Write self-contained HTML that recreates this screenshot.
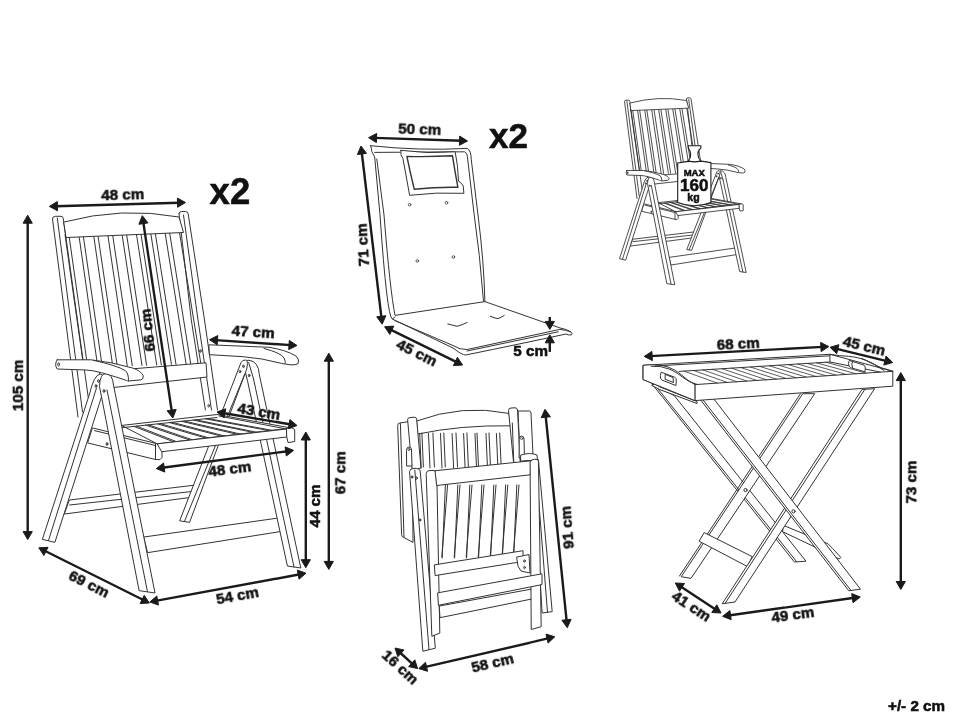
<!DOCTYPE html><html><head><meta charset="utf-8"><style>html,body{margin:0;padding:0;background:#fff;}svg{display:block;-webkit-font-smoothing:antialiased;} text{will-change:transform;font-family:"Liberation Sans",sans-serif;}</style></head><body>
<svg width="970" height="728" viewBox="0 0 970 728">
<rect width="970" height="728" fill="#fff"/>
<g fill="#fff" stroke="#333" stroke-width="1.0" stroke-linejoin="round" stroke-linecap="round">
<path d="M78,417 L52.5,219 Q52.5,216.3 55.5,216.3 L61,216.3 Q63,216.3 63.3,218.5 L90,410"/>
<line x1="57.3" y1="218" x2="82.5" y2="412"/>
<path d="M179,213.5 Q179,211.5 181.5,211.5 L185.5,211.5 Q188,211.5 188.2,214 L204.5,320 L217.5,410"/>
<path fill="none" d="M179,213.5 L191.3,320 L205.4,410"/>
<path fill="none" d="M183.5,215 L198,320 L211.5,410"/>
<ellipse cx="200.4" cy="351" rx="0.8" ry="1.3"/>
<ellipse cx="208.7" cy="405.7" rx="0.8" ry="1.3"/>
<line x1="65.0" y1="234.8" x2="83.8" y2="367.6"/>
<line x1="68.9" y1="234.8" x2="87.7" y2="367.4"/>
<line x1="78.8" y1="234.6" x2="97.8" y2="367.1"/>
<line x1="83.1" y1="234.6" x2="102.3" y2="366.9"/>
<line x1="93.5" y1="234.4" x2="112.8" y2="366.5"/>
<line x1="97.8" y1="234.4" x2="117.3" y2="366.4"/>
<line x1="107.7" y1="234.2" x2="127.3" y2="366.0"/>
<line x1="112.5" y1="234.1" x2="132.3" y2="365.8"/>
<line x1="122.0" y1="234.0" x2="142.0" y2="365.5"/>
<line x1="126.5" y1="233.9" x2="146.6" y2="365.3"/>
<line x1="136.4" y1="233.8" x2="156.7" y2="365.0"/>
<line x1="140.9" y1="233.7" x2="161.3" y2="364.8"/>
<line x1="150.8" y1="233.6" x2="171.4" y2="364.4"/>
<line x1="155.3" y1="233.5" x2="176.0" y2="364.3"/>
<line x1="165.2" y1="233.4" x2="186.1" y2="363.9"/>
<line x1="169.7" y1="233.3" x2="190.7" y2="363.8"/>
<line x1="179.6" y1="233.2" x2="200.8" y2="363.4"/>
<path d="M64,222 Q122,206.5 179,217 L183.5,232.5 L66.4,237.5 Z"/>
<polygon points="100,371.5 206,362.8 207,377 100,389"/>
<polygon points="69.7,500 196,485 197.5,496.5 64.7,514"/>
<line x1="69.7" y1="505" x2="196.5" y2="491"/>
<polygon points="144,537 282,517.5 284,531 148,552.6"/>
<path d="M244.5,368 Q245,360.5 248,360.1 Q254,360.5 256.3,364.4 Q259,368 259.2,374 L300.8,568 L287.4,566 L247.7,381.7 Z"/>
<line x1="248.7" y1="362.5" x2="253.5" y2="378.8"/>
<line x1="253.5" y1="378.8" x2="294" y2="567"/>
<path d="M179.8,520.5 L241,362.5 Q242.5,359.8 245.5,360 Q248,360.5 247.2,366 L246.7,369.2 L189.7,522 Z"/>
<line x1="244.8" y1="374" x2="184.5" y2="521.3"/>
<ellipse cx="243.4" cy="366.3" rx="0.8" ry="1.3"/>
<ellipse cx="240" cy="371.6" rx="0.8" ry="1.3"/>
<ellipse cx="249.1" cy="375.5" rx="0.8" ry="1.3"/>
<polygon points="92.8,428 155.5,443.3 160,444.5 162,447 162,457.5 160,459.6 155.5,459.5 88,443"/>
<line x1="155.5" y1="443.3" x2="155.5" y2="459.5"/>
<line x1="94.5" y1="430.6" x2="155.5" y2="445.5"/>
<polygon points="122,425.4 217,414.5 291,428 157.6,443.8"/>
<line x1="122" y1="427.7" x2="217" y2="417.5"/>
<line x1="219" y1="416" x2="289" y2="429.5"/>
<line x1="133.9" y1="426.4" x2="173.8" y2="441.9"/>
<line x1="136.5" y1="426.1" x2="176.4" y2="441.6"/>
<line x1="145.8" y1="425.1" x2="189.9" y2="440.1"/>
<line x1="148.3" y1="424.8" x2="192.5" y2="439.8"/>
<line x1="157.6" y1="423.9" x2="206.1" y2="438.2"/>
<line x1="160.2" y1="423.6" x2="208.7" y2="437.9"/>
<line x1="169.5" y1="422.6" x2="222.3" y2="436.4"/>
<line x1="172.1" y1="422.3" x2="224.9" y2="436.1"/>
<line x1="181.4" y1="421.3" x2="238.5" y2="434.6"/>
<line x1="184.0" y1="421.0" x2="241.1" y2="434.2"/>
<line x1="193.2" y1="420.1" x2="254.7" y2="432.7"/>
<line x1="195.8" y1="419.8" x2="257.2" y2="432.4"/>
<line x1="205.1" y1="418.8" x2="270.8" y2="430.9"/>
<line x1="207.7" y1="418.5" x2="273.4" y2="430.6"/>
<polygon points="157.6,443.8 286.8,429 286.8,437 162,451.7"/>
<polygon points="286.8,428.3 292,427.8 294.7,429.5 294.7,441.5 288,442.6 286.8,437"/>
<path d="M42.5,539 L89.5,394 Q94,375 100,374 Q106,375 105,386 L55,542 Z"/>
<line x1="96.5" y1="388" x2="48.5" y2="540.5"/>
<path d="M99.5,386 Q100,373.5 106,373.5 Q112.5,374 113.5,385 L155,593 L139.5,590.7 Z"/>
<line x1="107" y1="390" x2="147.5" y2="591.8"/>
<ellipse cx="96" cy="386" rx="0.9" ry="1.5"/>
<ellipse cx="98.5" cy="381" rx="0.9" ry="1.5"/>
<ellipse cx="104" cy="391" rx="0.9" ry="1.5"/>
<ellipse cx="107" cy="444" rx="0.9" ry="1.5"/>
<path d="M57.2,359.8 L91.2,359.8 Q112,362 132.5,368 Q140.7,370.6 143.3,375.8 Q143.5,379.5 140.7,379.9 L128.4,381 Q116,376.8 101.5,372.7 Q92,370.2 86,370 L57.2,369 Q54,364.4 57.2,359.8 Z"/>
<path d="M93.3,360.3 Q117,365.5 125.3,370.6 Q129,374 128.4,381"/>
<ellipse cx="58.6" cy="364.4" rx="0.9" ry="1.7"/>
<path d="M209.2,344.8 L269.2,347.3 Q286,350 296,356 Q300,360 297.6,364 Q296,365 290,364.8 L281.5,363.4 Q262,358 242,356.6 L209.8,354.7 Z"/>
<path d="M264,348.5 Q281.5,353 284,358 Q286,362 285.2,363.4"/>
</g>
<g transform="translate(598.8,-5.8) scale(0.49)" fill="#fff" stroke="#2a2a2a" stroke-width="1.7" stroke-linejoin="round" stroke-linecap="round">
<path d="M78,417 L52.5,219 Q52.5,216.3 55.5,216.3 L61,216.3 Q63,216.3 63.3,218.5 L90,410"/>
<line x1="57.3" y1="218" x2="82.5" y2="412"/>
<path d="M179,213.5 Q179,211.5 181.5,211.5 L185.5,211.5 Q188,211.5 188.2,214 L204.5,320 L217.5,410"/>
<path fill="none" d="M179,213.5 L191.3,320 L205.4,410"/>
<path fill="none" d="M183.5,215 L198,320 L211.5,410"/>
<ellipse cx="200.4" cy="351" rx="0.8" ry="1.3"/>
<ellipse cx="208.7" cy="405.7" rx="0.8" ry="1.3"/>
<line x1="65.0" y1="234.8" x2="83.8" y2="367.6"/>
<line x1="68.9" y1="234.8" x2="87.7" y2="367.4"/>
<line x1="78.8" y1="234.6" x2="97.8" y2="367.1"/>
<line x1="83.1" y1="234.6" x2="102.3" y2="366.9"/>
<line x1="93.5" y1="234.4" x2="112.8" y2="366.5"/>
<line x1="97.8" y1="234.4" x2="117.3" y2="366.4"/>
<line x1="107.7" y1="234.2" x2="127.3" y2="366.0"/>
<line x1="112.5" y1="234.1" x2="132.3" y2="365.8"/>
<line x1="122.0" y1="234.0" x2="142.0" y2="365.5"/>
<line x1="126.5" y1="233.9" x2="146.6" y2="365.3"/>
<line x1="136.4" y1="233.8" x2="156.7" y2="365.0"/>
<line x1="140.9" y1="233.7" x2="161.3" y2="364.8"/>
<line x1="150.8" y1="233.6" x2="171.4" y2="364.4"/>
<line x1="155.3" y1="233.5" x2="176.0" y2="364.3"/>
<line x1="165.2" y1="233.4" x2="186.1" y2="363.9"/>
<line x1="169.7" y1="233.3" x2="190.7" y2="363.8"/>
<line x1="179.6" y1="233.2" x2="200.8" y2="363.4"/>
<path d="M64,222 Q122,206.5 179,217 L183.5,232.5 L66.4,237.5 Z"/>
<polygon points="100,371.5 206,362.8 207,377 100,389"/>
<polygon points="69.7,500 196,485 197.5,496.5 64.7,514"/>
<line x1="69.7" y1="505" x2="196.5" y2="491"/>
<polygon points="144,537 282,517.5 284,531 148,552.6"/>
<path d="M244.5,368 Q245,360.5 248,360.1 Q254,360.5 256.3,364.4 Q259,368 259.2,374 L300.8,568 L287.4,566 L247.7,381.7 Z"/>
<line x1="248.7" y1="362.5" x2="253.5" y2="378.8"/>
<line x1="253.5" y1="378.8" x2="294" y2="567"/>
<path d="M179.8,520.5 L241,362.5 Q242.5,359.8 245.5,360 Q248,360.5 247.2,366 L246.7,369.2 L189.7,522 Z"/>
<line x1="244.8" y1="374" x2="184.5" y2="521.3"/>
<ellipse cx="243.4" cy="366.3" rx="0.8" ry="1.3"/>
<ellipse cx="240" cy="371.6" rx="0.8" ry="1.3"/>
<ellipse cx="249.1" cy="375.5" rx="0.8" ry="1.3"/>
<polygon points="92.8,428 155.5,443.3 160,444.5 162,447 162,457.5 160,459.6 155.5,459.5 88,443"/>
<line x1="155.5" y1="443.3" x2="155.5" y2="459.5"/>
<line x1="94.5" y1="430.6" x2="155.5" y2="445.5"/>
<polygon points="122,425.4 217,414.5 291,428 157.6,443.8"/>
<line x1="122" y1="427.7" x2="217" y2="417.5"/>
<line x1="219" y1="416" x2="289" y2="429.5"/>
<line x1="133.9" y1="426.4" x2="173.8" y2="441.9"/>
<line x1="136.5" y1="426.1" x2="176.4" y2="441.6"/>
<line x1="145.8" y1="425.1" x2="189.9" y2="440.1"/>
<line x1="148.3" y1="424.8" x2="192.5" y2="439.8"/>
<line x1="157.6" y1="423.9" x2="206.1" y2="438.2"/>
<line x1="160.2" y1="423.6" x2="208.7" y2="437.9"/>
<line x1="169.5" y1="422.6" x2="222.3" y2="436.4"/>
<line x1="172.1" y1="422.3" x2="224.9" y2="436.1"/>
<line x1="181.4" y1="421.3" x2="238.5" y2="434.6"/>
<line x1="184.0" y1="421.0" x2="241.1" y2="434.2"/>
<line x1="193.2" y1="420.1" x2="254.7" y2="432.7"/>
<line x1="195.8" y1="419.8" x2="257.2" y2="432.4"/>
<line x1="205.1" y1="418.8" x2="270.8" y2="430.9"/>
<line x1="207.7" y1="418.5" x2="273.4" y2="430.6"/>
<polygon points="157.6,443.8 286.8,429 286.8,437 162,451.7"/>
<polygon points="286.8,428.3 292,427.8 294.7,429.5 294.7,441.5 288,442.6 286.8,437"/>
<path d="M42.5,539 L89.5,394 Q94,375 100,374 Q106,375 105,386 L55,542 Z"/>
<line x1="96.5" y1="388" x2="48.5" y2="540.5"/>
<path d="M99.5,386 Q100,373.5 106,373.5 Q112.5,374 113.5,385 L155,593 L139.5,590.7 Z"/>
<line x1="107" y1="390" x2="147.5" y2="591.8"/>
<ellipse cx="96" cy="386" rx="0.9" ry="1.5"/>
<ellipse cx="98.5" cy="381" rx="0.9" ry="1.5"/>
<ellipse cx="104" cy="391" rx="0.9" ry="1.5"/>
<ellipse cx="107" cy="444" rx="0.9" ry="1.5"/>
<path d="M57.2,359.8 L91.2,359.8 Q112,362 132.5,368 Q140.7,370.6 143.3,375.8 Q143.5,379.5 140.7,379.9 L128.4,381 Q116,376.8 101.5,372.7 Q92,370.2 86,370 L57.2,369 Q54,364.4 57.2,359.8 Z"/>
<path d="M93.3,360.3 Q117,365.5 125.3,370.6 Q129,374 128.4,381"/>
<ellipse cx="58.6" cy="364.4" rx="0.9" ry="1.7"/>
<path d="M209.2,344.8 L269.2,347.3 Q286,350 296,356 Q300,360 297.6,364 Q296,365 290,364.8 L281.5,363.4 Q262,358 242,356.6 L209.8,354.7 Z"/>
<path d="M264,348.5 Q281.5,353 284,358 Q286,362 285.2,363.4"/>
</g>
<g fill="#fff" stroke="#333" stroke-width="1.0" stroke-linejoin="round" stroke-linecap="round">
<path d="M370.7,145.7 Q420,151 467.2,148.4 Q471,150 471.3,159.8 L478,215 Q484,262 484.9,301.6 L559.9,327.9 Q566,329 570.7,331.8 Q573,333.5 571.5,334.8 Q568,335.5 566,334 Q520,344 465.6,355 Q462,355 453,348 L392.3,319 Q387,317 380,215 L374.7,157.1 Q371,152 370.7,145.7 Z"/>
<path fill="none" d="M374.7,152.4 L464.6,151.8 Q467.5,153 467.8,160 L473.6,210 Q480,255 483.5,301"/>
<path fill="none" d="M376.8,159 L384,215 Q390,290 395,315.4 L484.9,301.6"/>
<path fill="none" d="M392.3,319 L395,317 "/>
<path fill="none" d="M395,320.7 L453,345.5 Q460,350 467.1,349.5 L559.9,329.4 Q566,330 570.7,331.8"/>
<path fill="none" d="M467.1,351 L558.3,331.8"/>
<path d="M400.9,150.4 Q428,154 455.2,151.8 Q458,165 458.5,181.2 Q462,183 463.2,186 L463.9,193.3 Q436,192 409.6,195.3 Q406,175 402.9,158.5 Q400,155 400.9,150.4 Z"/>
<path stroke-width="1.4" d="M406.9,156.4 Q430,157 452.5,155.8 Q455,172 457.9,187.3 Q435,187 414.3,189.3 Q410,172 406.9,156.4 Z"/>
<circle cx="409.6" cy="204.7" r="1.3" stroke-width="0.8"/>
<circle cx="446.5" cy="202.7" r="1.3" stroke-width="0.8"/>
<circle cx="417.3" cy="260.9" r="1.3" stroke-width="0.8"/>
<circle cx="453.4" cy="257" r="1.3" stroke-width="0.8"/>
<path fill="none" d="M447.8,324 Q452,325 457,326.3 Q462,325 467.1,322.5"/>
<path fill="none" d="M490.3,316.3 Q494,318 498,318.6 Q501,317.5 504.2,315.5"/>
<path d="M397.7,425 Q397.7,423 400,423 L410,421.4 Q412,421.4 412,424 L412.5,467.6 L413,542.4 L404,537.5 Q401.6,537 401.6,535 Z"/>
<line x1="400.4" y1="423.6" x2="404" y2="537"/>
<path d="M518.4,411 L529.9,411 Q531,411.5 531,413 L533,455 L533,470 L521,470 Z"/>
<path d="M417,420.9 Q462,404 508.9,413.4 L511.8,425.8 Q460,425 418,434 Z"/>
<path d="M407.6,419.2 Q407.6,417.6 410,417.6 L414,417.2 Q416.4,417 416.6,419 L421,468 L412.5,470 Z"/>
<path d="M508.5,410 Q508.5,408.2 511,408 L515,407.8 Q517.3,407.7 517.5,410 L520.5,468 L514.5,468 Z"/>
<line x1="512.3" y1="423" x2="514" y2="468"/>
<line x1="419.7" y1="433.5" x2="421.2" y2="468"/>
<line x1="421.9" y1="433" x2="423.4" y2="467"/>
<line x1="428.5" y1="433.5" x2="430.0" y2="468"/>
<line x1="432.9" y1="433" x2="434.4" y2="467"/>
<line x1="440.5" y1="433.5" x2="442.0" y2="468"/>
<line x1="443.8" y1="433" x2="445.3" y2="467"/>
<line x1="452.1" y1="433.5" x2="453.6" y2="468"/>
<line x1="456" y1="433" x2="457.5" y2="467"/>
<line x1="463.6" y1="433.5" x2="465.1" y2="468"/>
<line x1="466.9" y1="433" x2="468.4" y2="467"/>
<line x1="475" y1="433.5" x2="476.5" y2="468"/>
<line x1="477" y1="433" x2="478.5" y2="467"/>
<line x1="486" y1="433.5" x2="487.5" y2="468"/>
<line x1="489" y1="433" x2="490.5" y2="467"/>
<line x1="496.4" y1="433.5" x2="497.9" y2="468"/>
<line x1="499.7" y1="433" x2="501.2" y2="467"/>
<path d="M406.5,450 Q406.5,447 409,447 Q411.5,447 411.5,450 L412,466 L407,466 Z"/>
<circle cx="409" cy="449.5" r="1.1" stroke-width="0.8"/>
<path d="M519.2,439 Q519.2,436 521.5,436 Q524,436 524,439 L524.5,458 L519.5,458 Z"/>
<circle cx="521.6" cy="438.5" r="1.1" stroke-width="0.8"/>
<path d="M521,455 Q530,452 537,455 L537.5,460 L521,461 Z"/>
<polygon points="533.5,470 538.4,459.5 552.2,611.6 542.5,613"/>
<line x1="536" y1="466" x2="547.5" y2="612.3"/>
<path d="M409.6,471 Q410,468.5 414,468.3 Q419.5,468.3 420.2,471 L435.3,648.2 L423.2,651.2 Z"/>
<line x1="414.8" y1="470" x2="429" y2="649.7"/>
<ellipse cx="412" cy="477" rx="0.8" ry="1.3"/>
<ellipse cx="416.5" cy="478" rx="0.8" ry="1.3"/>
<ellipse cx="420" cy="520" rx="0.8" ry="1.3"/>
<path d="M426.2,473 Q426.4,470.5 430,470.5 L433,470.5 Q436.8,470.5 436.8,473 L439.8,633.1 L432.2,636.1 Z"/>
<line x1="445.4" y1="485" x2="442.2" y2="558"/>
<line x1="447.59999999999997" y1="485" x2="441.79999999999995" y2="557"/>
<line x1="457.8" y1="485" x2="454.6" y2="558"/>
<line x1="460.0" y1="485" x2="454.2" y2="557"/>
<line x1="469.8" y1="485" x2="466.6" y2="558"/>
<line x1="472.0" y1="485" x2="466.2" y2="557"/>
<line x1="481.8" y1="485" x2="478.6" y2="558"/>
<line x1="484.0" y1="485" x2="478.2" y2="557"/>
<line x1="493.8" y1="485" x2="490.6" y2="558"/>
<line x1="496.0" y1="485" x2="490.2" y2="557"/>
<line x1="505.6" y1="485" x2="502.40000000000003" y2="558"/>
<line x1="507.8" y1="485" x2="502.0" y2="557"/>
<line x1="516.8" y1="485" x2="513.5999999999999" y2="558"/>
<line x1="519.0" y1="485" x2="513.1999999999999" y2="557"/>
<polygon points="435.4,470.7 531.1,460.8 530.3,474.8 437,485.5"/>
<polygon points="434.7,564.8 523,550.7 523,561.5 435.5,575.5"/>
<polygon points="439.6,606 533.7,588.7 533.7,598.6 440.4,617.6"/>
<path d="M517,557 L529,554.5 L530,573 L521,571 Q517,567 517,560 Z"/>
<ellipse cx="524.5" cy="561" rx="0.8" ry="1.2"/>
<ellipse cx="524.5" cy="567.5" rx="0.8" ry="1.2"/>
<path d="M530.2,462 Q531,459.5 534.5,459.2 Q538.4,459 538.4,461 L541.2,626.7 L531.6,629.4 Z"/>
<polygon points="438,592.8 542,573.8 542,584.6 438.8,605.2"/>
<polygon points="784.2,525.7 828,543.8 832.5,548.4 840.8,557.4 839.3,559 814.4,546.8 782.7,531.7"/>
<polygon points="651.4,382.9 674.5,395.9 806,561.2 794.8,562"/>
<line x1="654.3" y1="384.3" x2="796.5" y2="561.5"/>
<polygon points="803.2,393.7 814.7,393.7 691,578.4 681.6,576.8"/>
<line x1="800.5" y1="393.7" x2="679.5" y2="576"/>
<circle cx="745.5" cy="490" r="1.6"/>
<polygon points="704.5,532.8 752.2,556.6 747.8,566.7 699.5,541.4"/>
<polygon points="862.4,389.4 874.6,388.7 735,602 722.6,603.7"/>
<line x1="865" y1="389.2" x2="725" y2="603.5"/>
<polygon points="699.5,398 712.5,397.2 860.5,589.2 849.2,590.7"/>
<line x1="701.5" y1="398" x2="851" y2="590.5"/>
<circle cx="793.5" cy="511.3" r="1.6"/>
<polygon points="655,384 659.8,386.9 697,401.5 697,403.5 659.8,389.6 652,385.5"/>
<polygon points="643.4,365.3 829.9,354.3 892.8,371.3 892.8,386.2 694.9,400.6 643.4,379.7"/>
<line x1="684.0" y1="371.1" x2="717.3" y2="383.1" stroke-width="0.8"/>
<line x1="693.5" y1="370.5" x2="727.2" y2="382.4" stroke-width="0.8"/>
<line x1="702.9" y1="369.9" x2="737.0" y2="381.8" stroke-width="0.8"/>
<line x1="712.4" y1="369.3" x2="746.9" y2="381.1" stroke-width="0.8"/>
<line x1="721.9" y1="368.7" x2="756.7" y2="380.4" stroke-width="0.8"/>
<line x1="731.3" y1="368.1" x2="766.6" y2="379.8" stroke-width="0.8"/>
<line x1="740.8" y1="367.6" x2="776.5" y2="379.1" stroke-width="0.8"/>
<line x1="750.3" y1="367.0" x2="786.4" y2="378.5" stroke-width="0.8"/>
<line x1="759.7" y1="366.4" x2="796.3" y2="377.8" stroke-width="0.8"/>
<line x1="769.2" y1="365.8" x2="806.2" y2="377.1" stroke-width="0.8"/>
<line x1="778.7" y1="365.2" x2="816.2" y2="376.5" stroke-width="0.8"/>
<line x1="788.1" y1="364.6" x2="826.2" y2="375.8" stroke-width="0.8"/>
<line x1="797.6" y1="364.0" x2="836.1" y2="375.1" stroke-width="0.8"/>
<line x1="807.1" y1="363.4" x2="846.1" y2="374.4" stroke-width="0.8"/>
<line x1="816.5" y1="362.8" x2="856.1" y2="373.8" stroke-width="0.8"/>
<line x1="826.0" y1="362.2" x2="866.2" y2="373.1" stroke-width="0.8"/>
<line x1="694.9" y1="384.6" x2="694.9" y2="400.6"/>
<line x1="694.9" y1="384.6" x2="892.8" y2="371.3"/>
<path d="M643.4,365.3 Q658,363.5 668,367 Q676,370 681,374.5 Q688,381 694.9,384.6 L694.9,400.6 L643.4,379.7 Z"/>
<path fill="none" d="M651,366.2 Q661,365.5 670,369.3 Q678,373 683,377.5 Q689,382.5 697,384.4"/>
<path fill="none" d="M655,366 L829.9,355.8"/>
<path fill="none" d="M679.2,371.4 L829.9,362 L880,372"/>
<line x1="829.9" y1="355" x2="829.9" y2="362"/>
<path fill="none" d="M829.9,354.3 Q840,356 848.5,356.3 Q862,357.5 871,363 Q880,368 892.8,371.3"/>
<path fill="none" d="M861.9,358.4 Q873,362.5 884,370.5"/>
<path d="M661.5,372.3 L674.7,377.2 Q676.5,378 676.3,381 L675.9,385.5 L661.9,380.1 Q660,379 660.3,376 Z"/>
<path d="M665.5,374.5 L673,377.5 L673.5,382.5 L665.5,379.5 Z"/>
<path d="M849.5,360.5 L864,365.1 Q865.5,366.5 865.3,369 L865,371.8 L850.5,367.7 Q848.5,366.5 848.5,363.5 Q848.5,361 849.5,360.5 Z"/>
<path fill="none" d="M852.5,361.5 Q851,364 852.5,367.5"/>
</g>
<g fill="#fff" stroke="#1e1e1e" stroke-width="1.1">
<path d="M677.7,163 Q694,159.5 710.9,162.6 L710.9,202.5 Q694,209 677.7,202.5 Z"/>
<path d="M688.3,145.8 L700.8,145.8 L700.8,148.2 Q697.5,151 697.9,154.4 Q698,158 700.8,160.7 Q694.5,163 688.3,160.7 Q690.8,158 690.7,154.4 Q690.5,151 688.3,148.2 Z"/>
</g>
<g font-weight="bold" fill="#111" stroke="#111" stroke-width="0.55" text-anchor="middle">
<text x="694.2" y="175.6" font-size="9.5">MAX</text>
<text x="694.2" y="190.5" font-size="17">160</text>
<text x="693.5" y="200.6" font-size="10.5">kg</text>
</g>
<g fill="#1a1a1a" stroke="#1a1a1a"><line x1="55.4" y1="206.2" x2="179.5" y2="202.7" stroke-width="2.4"/><polygon points="49.4,206.4 57.3,201.6 57.5,210.8"/><polygon points="185.5,202.5 177.6,207.3 177.4,198.1"/>
<line x1="27.7" y1="221.2" x2="27.7" y2="533.6" stroke-width="2.4"/><polygon points="27.7,215.2 32.3,223.2 23.1,223.2"/><polygon points="27.7,539.6 23.1,531.6 32.3,531.6"/>
<line x1="143.2" y1="221.6" x2="171.9" y2="412.1" stroke-width="2.4"/><polygon points="142.3,215.7 148.0,222.9 138.9,224.3"/><polygon points="172.8,418.0 167.1,410.8 176.2,409.4"/>
<line x1="215.5" y1="340.1" x2="291.0" y2="345.1" stroke-width="2.4"/><polygon points="209.5,339.7 217.8,335.6 217.2,344.8"/><polygon points="297.0,345.5 288.7,349.6 289.3,340.4"/>
<line x1="222.9" y1="413.0" x2="291.1" y2="424.5" stroke-width="2.4"/><polygon points="217.0,412.0 225.7,408.8 224.1,417.9"/><polygon points="297.0,425.5 288.3,428.7 289.9,419.6"/>
<line x1="162.2" y1="467.8" x2="287.7" y2="451.2" stroke-width="2.4"/><polygon points="156.3,468.6 163.6,463.0 164.8,472.1"/><polygon points="293.6,450.4 286.3,456.0 285.1,446.9"/>
<line x1="305.8" y1="438.0" x2="305.8" y2="561.7" stroke-width="2.4"/><polygon points="305.8,432.0 310.4,440.0 301.2,440.0"/><polygon points="305.8,567.7 301.2,559.7 310.4,559.7"/>
<line x1="328.8" y1="359.2" x2="328.8" y2="563.4" stroke-width="2.4"/><polygon points="328.8,353.2 333.4,361.2 324.2,361.2"/><polygon points="328.8,569.4 324.2,561.4 333.4,561.4"/>
<line x1="44.2" y1="550.5" x2="143.9" y2="600.3" stroke-width="2.4"/><polygon points="38.8,547.8 48.0,547.3 43.9,555.5"/><polygon points="149.3,603.0 140.1,603.5 144.2,595.3"/>
<line x1="155.7" y1="600.9" x2="300.1" y2="574.3" stroke-width="2.4"/><polygon points="149.8,602.0 156.8,596.0 158.5,605.1"/><polygon points="306.0,573.2 299.0,579.2 297.3,570.1"/>
<line x1="374.6" y1="137.9" x2="461.5" y2="140.8" stroke-width="2.4"/><polygon points="368.6,137.7 376.7,133.4 376.4,142.6"/><polygon points="467.5,141.0 459.4,145.3 459.7,136.1"/>
<line x1="361.7" y1="152.0" x2="381.5" y2="318.2" stroke-width="2.4"/><polygon points="361.0,146.0 366.5,153.4 357.4,154.5"/><polygon points="382.2,324.2 376.7,316.8 385.8,315.7"/>
<line x1="390.0" y1="329.3" x2="457.2" y2="362.4" stroke-width="2.4"/><polygon points="384.6,326.7 393.8,326.1 389.8,334.4"/><polygon points="462.6,365.0 453.4,365.6 457.4,357.3"/>
<line x1="549.8" y1="317.0" x2="549.8" y2="323.4" stroke-width="2.4"/><polygon points="549.8,329.4 545.2,321.4 554.4,321.4"/>
<line x1="549.8" y1="351.9" x2="549.8" y2="340.8" stroke-width="2.4"/><polygon points="549.8,334.8 554.4,342.8 545.2,342.8"/>
<line x1="545.6" y1="415.3" x2="566.7" y2="621.7" stroke-width="2.4"/><polygon points="545.0,409.3 550.4,416.8 541.2,417.7"/><polygon points="567.3,627.7 561.9,620.2 571.1,619.3"/>
<line x1="399.4" y1="652.0" x2="413.2" y2="664.6" stroke-width="2.4"/><polygon points="395.0,648.0 404.0,650.0 397.8,656.8"/><polygon points="417.6,668.6 408.6,666.6 414.8,659.8"/>
<line x1="424.6" y1="667.2" x2="549.0" y2="638.2" stroke-width="2.4"/><polygon points="418.8,668.6 425.5,662.3 427.6,671.3"/><polygon points="554.8,636.8 548.1,643.1 546.0,634.1"/>
<line x1="650.2" y1="356.1" x2="822.8" y2="346.9" stroke-width="2.4"/><polygon points="644.2,356.4 651.9,351.4 652.4,360.6"/><polygon points="828.8,346.6 821.1,351.6 820.6,342.4"/>
<line x1="835.8" y1="348.7" x2="886.9" y2="361.1" stroke-width="2.4"/><polygon points="830.0,347.3 838.9,344.7 836.7,353.7"/><polygon points="892.7,362.5 883.8,365.1 886.0,356.1"/>
<line x1="900.8" y1="378.6" x2="900.8" y2="583.5" stroke-width="2.4"/><polygon points="900.8,372.6 905.4,380.6 896.2,380.6"/><polygon points="900.8,589.5 896.2,581.5 905.4,581.5"/>
<line x1="680.3" y1="586.3" x2="716.0" y2="609.7" stroke-width="2.4"/><polygon points="675.3,583.0 684.5,583.5 679.5,591.2"/><polygon points="721.0,613.0 711.8,612.5 716.8,604.8"/>
<line x1="728.5" y1="615.5" x2="854.4" y2="597.8" stroke-width="2.4"/><polygon points="722.6,616.3 729.9,610.6 731.2,619.7"/><polygon points="860.3,597.0 853.0,602.7 851.7,593.6"/></g>
<g font-weight="bold" fill="#111" stroke="#111" stroke-width="0.55" text-anchor="middle"><text transform="translate(122.7,194.6) rotate(-1.7)" x="0" y="4.6" font-size="15.2">48 cm</text>
<text transform="translate(229.9,192.8) rotate(0.0)" x="0" y="10.9" font-size="36.5">x2</text>
<text transform="translate(17.9,385.5) rotate(-90.0)" x="0" y="4.6" font-size="15.2">105 cm</text>
<text transform="translate(147.8,330.2) rotate(-96.5)" x="0" y="4.6" font-size="15.2">66 cm</text>
<text transform="translate(253.2,331.9) rotate(3.8)" x="0" y="4.6" font-size="15.2">47 cm</text>
<text transform="translate(258.9,411.5) rotate(9.6)" x="0" y="4.6" font-size="15.2">43 cm</text>
<text transform="translate(229.8,469.0) rotate(-7.5)" x="0" y="4.6" font-size="15.2">48 cm</text>
<text transform="translate(315.0,506.0) rotate(-90.0)" x="0" y="4.6" font-size="15.2">44 cm</text>
<text transform="translate(340.3,472.8) rotate(-90.0)" x="0" y="4.6" font-size="15.2">67 cm</text>
<text transform="translate(89.0,584.0) rotate(26.5)" x="0" y="4.6" font-size="15.2">69 cm</text>
<text transform="translate(237.4,595.6) rotate(-10.4)" x="0" y="4.6" font-size="15.2">54 cm</text>
<text transform="translate(419.7,129.2) rotate(1.9)" x="0" y="4.6" font-size="15.2">50 cm</text>
<text transform="translate(508.4,137.2) rotate(0.0)" x="0" y="10.5" font-size="35">x2</text>
<text transform="translate(362.8,244.9) rotate(-93.5)" x="0" y="4.6" font-size="15.2">71 cm</text>
<text transform="translate(416.8,352.7) rotate(26.2)" x="0" y="4.6" font-size="15.2">45 cm</text>
<text transform="translate(530.6,351.5) rotate(0.0)" x="0" y="4.6" font-size="15.2">5 cm</text>
<text transform="translate(738.2,343.8) rotate(-3.0)" x="0" y="4.6" font-size="15.2">68 cm</text>
<text transform="translate(864.2,345.9) rotate(13.6)" x="0" y="4.6" font-size="15.2">45 cm</text>
<text transform="translate(911.3,482.1) rotate(-90.0)" x="0" y="4.6" font-size="15.2">73 cm</text>
<text transform="translate(691.4,606.2) rotate(33.3)" x="0" y="4.6" font-size="15.2">41 cm</text>
<text transform="translate(792.8,614.7) rotate(-7.9)" x="0" y="4.6" font-size="15.2">49 cm</text>
<text transform="translate(567.1,527.5) rotate(-94.5)" x="0" y="4.6" font-size="15.2">91 cm</text>
<text transform="translate(400.2,667.2) rotate(42.4)" x="0" y="4.6" font-size="15.2">16 cm</text>
<text transform="translate(492.5,662.9) rotate(-13.2)" x="0" y="4.6" font-size="15.2">58 cm</text>
<text transform="translate(916.5,706.4) rotate(0.0)" x="0" y="4.6" font-size="15.2">+/- 2 cm</text></g>
</svg></body></html>
